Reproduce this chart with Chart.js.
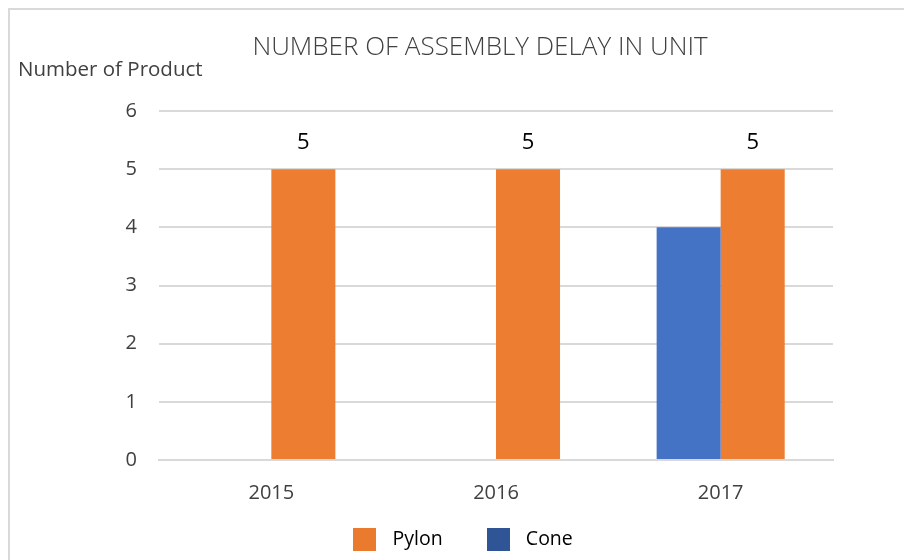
<!DOCTYPE html>
<html>
<head>
<meta charset="utf-8">
<script src="https://cdn.jsdelivr.net/npm/chart.js@4.4.1/dist/chart.umd.min.js"></script>
<style>
  html, body { margin: 0; padding: 0; background: #ffffff; }
  #wrap { position: relative; width: 904px; height: 560px; }
  canvas { display: block; }
</style>
</head>
<body>
<div id="wrap"><canvas id="c" width="904" height="560"></canvas></div>
<script>
const categories = ["2015", "2016", "2017"];
const coneValues = [0, 0, 4];
const pylonValues = [5, 5, 5];
const yTicks = [0, 1, 2, 3, 4, 5, 6];
const chartTitle = "NUMBER OF ASSEMBLY DELAY IN UNIT";
const yAxisLabel = "Number of Product";

const FONT = "'Open Sans', 'Liberation Sans', sans-serif";

const framePlugin = {
  id: 'frame',
  afterInit(chart) {
    const lg = chart.legend;
    if (lg) {
      const orig = lg.fit.bind(lg);
      lg.fit = function () { orig(); this.height = 38; };
    }
  },
  afterLayout(chart) {
    if (chart.legend) { chart.legend.top -= 29; }
  },
  beforeDraw(chart) {
    const ctx = chart.ctx;
    ctx.save();
    ctx.fillStyle = '#ffffff';
    ctx.fillRect(0, 0, chart.width, chart.height);
    ctx.strokeStyle = '#d9d9d9';
    ctx.lineWidth = 2;
    ctx.beginPath();
    ctx.moveTo(9, chart.height);
    ctx.lineTo(9, 9);
    ctx.lineTo(chart.width, 9);
    ctx.stroke();
    ctx.restore();
  },
  afterDraw(chart) {
    const ctx = chart.ctx;
    ctx.save();
    ctx.fillStyle = '#404040';
    ctx.textBaseline = 'middle';
    ctx.textAlign = 'center';
    ctx.font = "300 26px " + FONT;
    ctx.fillText(chartTitle, 480, 48);
    ctx.textAlign = 'left';
    ctx.font = "20.5px " + FONT;
    ctx.fillText(yAxisLabel, 18, 70);
    ctx.restore();
  }
};

const labelPlugin = {
  id: 'valueLabels',
  afterDatasetsDraw(chart) {
    const ctx = chart.ctx;
    const meta = chart.getDatasetMeta(1);
    ctx.save();
    ctx.fillStyle = '#000000';
    ctx.font = "22px " + FONT;
    ctx.textAlign = 'center';
    ctx.textBaseline = 'middle';
    meta.data.forEach((el, i) => {
      ctx.fillText(String(pylonValues[i]), el.x, el.y - 26);
    });
    ctx.restore();
  }
};

function swatch(color) {
  const c = document.createElement('canvas');
  c.width = 23; c.height = 23;
  const g = c.getContext('2d');
  g.fillStyle = color;
  g.fillRect(0, 0, 23, 23);
  return c;
}
const legendColors = { 'Pylon': '#E97A2E', 'Cone': '#2F5597' };
const legendSwatches = { 'Pylon': swatch(legendColors.Pylon), 'Cone': swatch(legendColors.Cone) };

new Chart(document.getElementById('c'), {
  type: 'bar',
  data: {
    labels: categories,
    datasets: [
      { label: 'Cone', data: coneValues, backgroundColor: '#4472C4', borderWidth: 0 },
      { label: 'Pylon', data: pylonValues, backgroundColor: '#ED7D31', borderWidth: 0 }
    ]
  },
  options: {
    responsive: false,
    animation: false,
    datasets: { bar: { categoryPercentage: 0.57, barPercentage: 1.0 } },
    layout: { padding: { left: 87, right: 71, top: 111, bottom: 1 } },
    plugins: {
      title: { display: false },
      tooltip: { enabled: false },
      legend: {
        position: 'bottom',
        reverse: true,
        labels: {
          usePointStyle: true,
          pointStyleWidth: 35.5,
          boxHeight: 20,
          padding: 38,
          color: '#000000',
          font: { family: FONT, size: 19.5 },
          generateLabels(chart) {
            const items = Chart.defaults.plugins.legend.labels.generateLabels(chart);
            items.forEach(it => {
              it.fillStyle = legendColors[it.text];
              it.strokeStyle = legendColors[it.text];
              it.lineWidth = 0;
              it.pointStyle = legendSwatches[it.text];
            });
            return items;
          }
        }
      }
    },
    scales: {
      x: {
        grid: { display: false, drawTicks: false },
        border: { display: true, color: '#d9d9d9', width: 2 },
        ticks: { color: '#404040', font: { family: FONT, size: 20 }, padding: 21 },
        afterFit(scale) { scale.height = 61; }
      },
      y: {
        min: 0,
        max: 6,
        afterBuildTicks(scale) { scale.ticks = yTicks.map(v => ({ value: v })); },
        grid: { color: '#d9d9d9', lineWidth: 2, drawTicks: false },
        border: { display: false },
        ticks: { color: '#404040', font: { family: FONT, size: 20 }, padding: 22 },
        afterFit(scale) { scale.width = 72; }
      }
    }
  },
  plugins: [framePlugin, labelPlugin]
});
</script>
</body>
</html>
